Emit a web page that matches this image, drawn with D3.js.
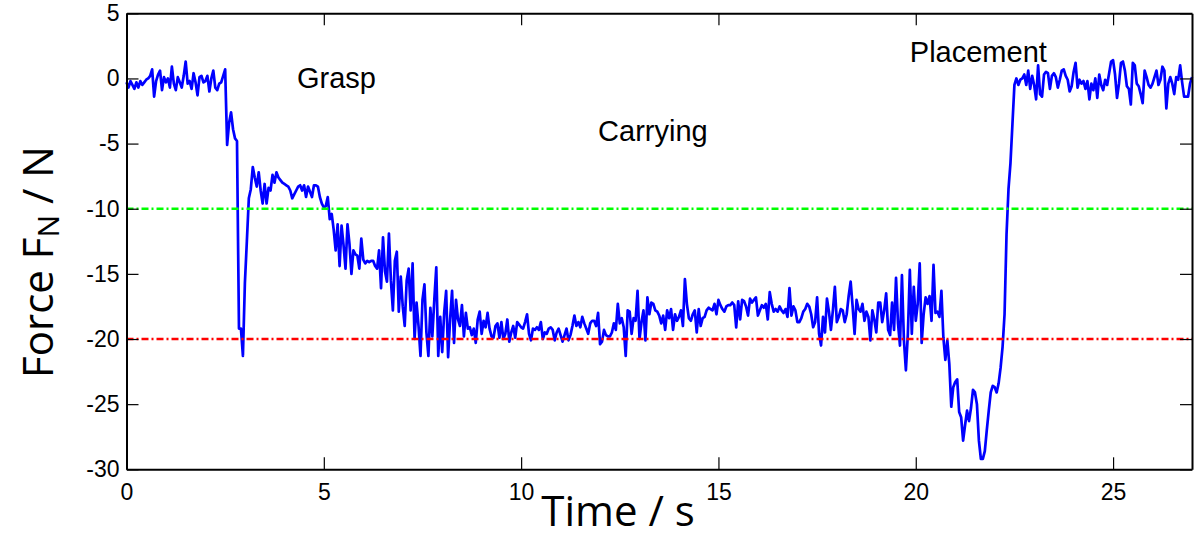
<!DOCTYPE html>
<html>
<head>
<meta charset="utf-8">
<script src="https://cdn.jsdelivr.net/npm/d3@7/dist/d3.min.js"></script>
<style>
    body { margin: 0; background: #fff; }
    svg { display: block; }
    .axis text { font-family: "Liberation Sans", Arial, sans-serif; font-size: 23px; fill: #000; }
    .phase { font-family: "Liberation Sans", Arial, sans-serif; font-size: 29px; fill: #000; }
    .title { font-family: "Open Sans", sans-serif; font-size: 42px; fill: #000; }
</style>
</head>
<body>
<div id="chart"></div>
<script>
const sampleStep = 0.05;

const approachForce = [
    -0.3, -0.7, -0.2, -0.5, -0.8, -0.3, -0.7, -0.2, -0.5, -0.3, -0.1, 0.0, 0.2, 0.7, -1.4, -0.2, 0.3, 0.6, -0.9, 0.1,
    -0.3, 0.0, -0.7, 0.9, -0.4, -0.9, 0.1, -0.3, -0.7, 0.2, 1.3, -0.4, -0.2, -0.8, 0.4, -0.3, -1.3, 0.1, 0.2, -0.3,
    -0.2, 0.2, -1.0, 0.0, 0.6, -0.7, -0.9, -0.4, -0.3, 0.2, 0.7, -5.1, -3.4, -2.6, -3.9, -4.6, -4.8, -19.2, -19.2, -21.3
];
const graspForce = [
    -15.7, -12.5, -9.2, -8.5, -6.8, -7.6, -8.3, -7.2, -8.6, -9.6, -8.1, -9.6, -8.4, -8.6, -7.4, -8.0, -7.2, -7.6, -7.8, -8.0,
    -8.1, -8.2, -8.3, -8.6, -9.2, -8.9, -8.6, -8.3, -8.2, -8.6, -8.2, -9.1, -8.3, -8.7, -9.1, -8.2, -8.2, -8.3, -9.1, -9.6,
    -9.9, -9.8, -9.1, -10.8, -10.4, -11.6, -13.2, -11.2, -14.4, -11.3, -12.8, -14.6, -11.2, -12.7, -15.0, -13.2, -13.5, -13.6, -14.6, -12.3,
    -13.9, -14.2, -14.0, -14.1, -14.0, -14.0, -14.4, -14.6, -13.2, -16.1, -12.2, -14.8, -15.6, -11.9, -15.5, -17.8, -14.0, -13.3, -17.9, -15.2
];
const carryForce = [
    -17.5, -19.0, -15.5, -14.6, -17.8, -14.2, -20.0, -17.2, -19.0, -21.3, -17.0, -15.8, -19.5, -21.3, -17.6, -19.8, -17.0, -14.5, -21.3, -18.3,
    -21.0, -18.0, -16.3, -21.4, -18.5, -16.3, -20.3, -17.0, -18.5, -19.0, -17.4, -19.8, -18.0, -19.2, -19.1, -19.7, -19.2, -20.3, -18.5, -17.9,
    -19.6, -18.6, -19.1, -18.0, -19.2, -19.8, -19.9, -19.0, -18.8, -19.9, -18.7, -20.0, -19.6, -18.5, -20.2, -19.5, -19.0, -19.9, -18.7, -18.9,
    -19.1, -19.2, -18.7, -18.1, -19.6, -20.1, -19.2, -19.3, -19.1, -19.3, -18.7, -20.0, -19.5, -19.6, -19.2, -19.1, -19.3, -20.1, -19.5, -19.2,
    -19.7, -20.2, -19.7, -19.2, -20.1, -19.7, -19.0, -18.2, -19.0, -18.7, -19.1, -18.3, -18.8, -19.2, -19.6, -18.8, -18.6, -18.6, -19.0, -18.0,
    -20.4, -20.2, -19.3, -19.7, -19.8, -19.8, -19.5, -18.8, -19.3, -17.3, -18.8, -18.4, -19.1, -21.3, -17.8, -17.9, -19.6, -18.4, -18.6, -16.3,
    -20.0, -18.7, -17.8, -20.1, -16.8, -18.1, -17.2, -17.3, -17.8, -17.9, -18.2, -18.8, -18.2, -19.3, -17.8, -18.4, -17.7, -19.3, -18.1, -18.6,
    -18.3, -17.8, -19.0, -15.4, -17.3, -18.4, -18.6, -18.1, -17.8, -19.5, -17.7, -19.0, -18.4, -18.3, -17.8, -17.6, -17.7, -17.8, -17.3, -18.1,
    -17.0, -17.4, -17.7, -17.9, -17.5, -17.4, -17.4, -17.2, -17.4, -19.1, -17.1, -18.5, -17.0, -17.1, -17.5, -18.2, -16.9, -17.2, -17.0, -16.8,
    -18.2, -17.8, -17.4, -17.6, -17.3, -18.5, -16.4, -17.3, -17.9, -17.7, -17.9, -17.5, -17.8, -18.0, -17.7, -18.3, -16.1, -18.2, -17.5, -17.8,
    -18.7, -18.7, -18.4, -17.9, -17.7, -17.3, -17.5, -18.1, -19.1, -18.7, -16.8, -19.6, -20.5, -18.3, -19.5, -16.9, -17.9, -19.3, -17.8, -16.0,
    -18.7, -18.3, -17.7, -17.8, -18.7, -18.1, -16.7, -15.6, -17.5, -19.6, -17.0, -17.7, -17.9, -17.3, -18.6, -17.9, -18.3, -20.1, -17.8, -18.5,
    -19.5, -17.2, -17.2, -18.7, -17.8, -16.5, -19.3, -19.7, -17.2, -19.3, -15.3, -18.8, -20.5, -15.1, -20.1, -22.4, -19.6, -14.7, -19.6, -16.0
];
const placeForce = [
    -18.6, -17.3, -14.2, -20.3, -18.1, -16.8, -17.3, -16.7, -18.6, -14.3, -18.0, -17.9, -18.3, -16.3, -19.9, -21.6, -20.1, -21.9, -25.2, -23.7,
    -23.3, -23.1, -25.6, -26.0, -27.8, -26.6, -25.5, -26.3, -25.3, -23.9, -24.1, -25.0, -27.8, -29.2, -29.2, -28.6, -27.0, -25.5, -24.1, -23.6,
    -23.7, -24.1, -23.4, -22.2, -20.6, -18.1, -12.0, -8.5, -6.5, -3.5, -0.5, 0.0, -0.5, -0.1, 0.0, 0.3, -0.5, 0.6, -0.8, 0.2
];
const releaseForce = [
    -0.5, -1.6, 1.0, -1.2, -1.4, 0.3, 0.5, 0.4, -0.8, 0.2, 0.4, 0.1, -0.7, -0.1, 0.6, 0.7, 0.2, -0.1, -1.0, -0.6,
    0.5, 1.2, -0.7, -0.1, -0.4, -0.2, -0.8, -0.2, -1.6, -0.4, -0.9, 0.0, -1.5, 0.3, -0.5, -0.9, -0.1, -0.5, 0.4, 1.3,
    1.4, 0.3, -1.5, -0.4, 1.2, 1.3, 0.6, -0.6, -0.8, -2.0, 1.2, 1.0, -0.4, -0.6, -1.2, -1.9, 0.6, 0.1, -0.5, -0.7,
    -0.4, 0.1, 0.6, -0.5, -0.1, 0.9, 0.6, -2.3, -0.4, 0.1, -0.4, -1.2, 0.1, -0.1, 1.0, -0.3, -1.4, -1.4, -1.4, -0.4, 0.1
];

const xTicks = [0, 5, 10, 15, 20, 25];
const yTicks = [5, 0, -5, -10, -15, -20, -25, -30];
const thresholdValues = [-10, -20];
const thresholdColors = ['#00ff00', '#ff0000'];
const phaseNames = ['Grasp', 'Carrying', 'Placement'];
const phaseTimes = [4.32, 11.95, 19.85];
const phaseForces = [-0.77, -4.83, 1.23];

const width = 1196, height = 541;
const plotLeft = 126.5, plotRight = 1192, plotTop = 13.3, plotBottom = 469.3;

const force = approachForce.concat(graspForce, carryForce, placeForce, releaseForce);
const series = force.map((v, i) => ({ t: i * sampleStep, v: v }));

const x = d3.scaleLinear().domain([0, 27]).range([plotLeft, plotRight]);
const y = d3.scaleLinear().domain([-30, 5]).range([plotBottom, plotTop]);

const svg = d3.select('#chart').append('svg')
    .attr('width', width)
    .attr('height', height);

// force trace
const line = d3.line().x(d => x(d.t)).y(d => y(d.v));
svg.append('path')
    .datum(series)
    .attr('fill', 'none')
    .attr('stroke', '#0000ff')
    .attr('stroke-width', 2.7)
    .attr('stroke-linejoin', 'round')
    .attr('d', line);

// threshold lines
svg.selectAll('.threshold')
    .data(thresholdValues)
    .enter().append('line')
    .attr('class', 'threshold')
    .attr('x1', plotLeft).attr('x2', plotRight)
    .attr('y1', d => y(d)).attr('y2', d => y(d))
    .attr('stroke', (d, i) => thresholdColors[i])
    .attr('stroke-width', 2.5)
    .attr('stroke-dasharray', '7,3,2,3');

// axes, ticks point inward like matlab
function styleAxis(g) {
    g.selectAll('.tick line').attr('stroke', '#000').attr('stroke-width', 1.2);
    g.select('.domain').attr('stroke', '#000').attr('stroke-width', 2);
}
const plainNumber = d => String(d);   // hyphen minus, not the unicode one

svg.append('g').attr('class', 'axis')
    .attr('transform', `translate(0,${plotBottom})`)
    .call(d3.axisBottom(x).tickValues(xTicks).tickSize(-12).tickSizeOuter(0).tickPadding(14).tickFormat(plainNumber))
    .call(styleAxis);
svg.append('g').attr('class', 'axis')
    .attr('transform', `translate(0,${plotTop})`)
    .call(d3.axisTop(x).tickValues(xTicks).tickSize(-12).tickSizeOuter(0).tickFormat(''))
    .call(styleAxis);
svg.append('g').attr('class', 'axis')
    .attr('transform', `translate(${plotLeft},0)`)
    .call(d3.axisLeft(y).tickValues(yTicks).tickSize(-12).tickSizeOuter(0).tickPadding(7).tickFormat(plainNumber))
    .call(styleAxis);
svg.append('g').attr('class', 'axis')
    .attr('transform', `translate(${plotRight},0)`)
    .call(d3.axisRight(y).tickValues(yTicks).tickSize(-12).tickSizeOuter(0).tickFormat(''))
    .call(styleAxis);

svg.selectAll('.axis').attr('font-family', null).attr('font-size', null);

// phase labels
svg.selectAll('.phase')
    .data(phaseNames)
    .enter().append('text')
    .attr('class', 'phase')
    .attr('x', (d, i) => x(phaseTimes[i]))
    .attr('y', (d, i) => y(phaseForces[i]))
    .text(d => d);

// axis titles
const yTitle = svg.append('text')
    .attr('class', 'title')
    .attr('text-anchor', 'middle')
    .attr('transform', 'translate(53,262) rotate(-90)');
yTitle.append('tspan').text('Force F');
yTitle.append('tspan').attr('font-size', '30px').attr('dy', 6).text('N');
yTitle.append('tspan').attr('dy', -6).text(' / N');

svg.append('text')
    .attr('class', 'title')
    .attr('text-anchor', 'middle')
    .attr('x', 618)
    .attr('y', 526)
    .text('Time / s');
</script>
</body>
</html>
